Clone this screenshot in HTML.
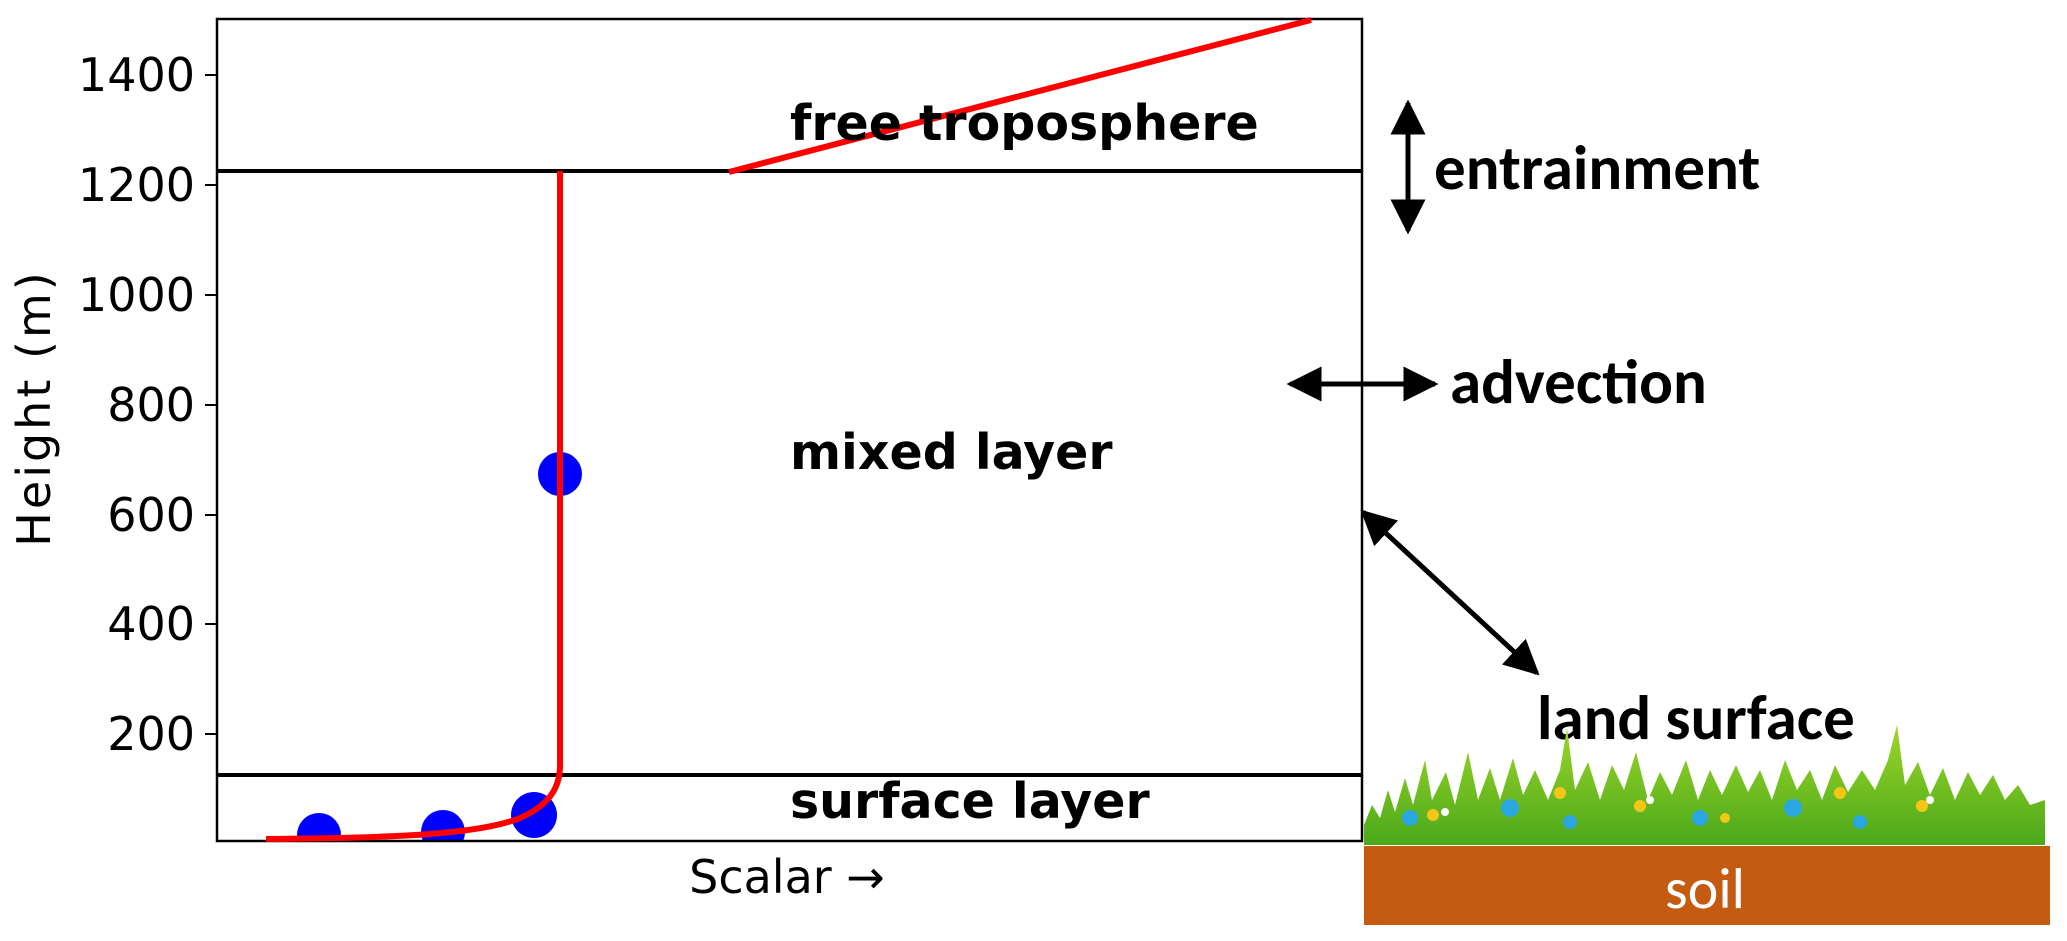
<!DOCTYPE html>
<html><head><style>
html,body{margin:0;padding:0;background:#fff;}
svg{display:block;}
.t{font-family:"DejaVu Sans",sans-serif;font-size:46px;fill:#000;}
.b{font-family:"DejaVu Sans",sans-serif;font-weight:bold;font-size:49px;fill:#000;}
.c{font-family:"Carlito","Liberation Sans",sans-serif;font-weight:bold;font-size:63px;fill:#000;}
</style></head><body>
<svg width="2067" height="941" viewBox="0 0 2067 941" xmlns="http://www.w3.org/2000/svg">
<defs>
<marker id="ah" viewBox="0 0 10 10" refX="9" refY="5" markerWidth="7" markerHeight="7" orient="auto-start-reverse">
<path d="M0,0 L10,5 L0,10 z" fill="#000"/></marker>
<linearGradient id="gg" x1="0" y1="0" x2="0" y2="1"><stop offset="0" stop-color="#9ed62a"/><stop offset="1" stop-color="#4aa81a"/></linearGradient>
</defs>
<g fill="#0000ff">
<circle cx="560" cy="474" r="22"/><circle cx="534" cy="815" r="23"/>
<circle cx="443" cy="832" r="22"/><circle cx="319" cy="835" r="22"/>
</g>
<rect x="200" y="842" width="1180" height="20" fill="#fff"/>
<rect x="217" y="19" width="1145" height="822" fill="none" stroke="#000" stroke-width="2.5"/>
<line x1="217" y1="171" x2="1362" y2="171" stroke="#000" stroke-width="4"/>
<line x1="217" y1="775" x2="1362" y2="775" stroke="#000" stroke-width="4"/>
<g stroke="#000" stroke-width="2">
<line x1="205" y1="75" x2="217" y2="75"/><line x1="205" y1="185" x2="217" y2="185"/>
<line x1="205" y1="295" x2="217" y2="295"/><line x1="205" y1="405" x2="217" y2="405"/>
<line x1="205" y1="515" x2="217" y2="515"/><line x1="205" y1="624" x2="217" y2="624"/>
<line x1="205" y1="734" x2="217" y2="734"/>
</g>
<g class="t" text-anchor="end">
<text x="195" y="91">1400</text><text x="195" y="201">1200</text><text x="195" y="311">1000</text>
<text x="195" y="421">800</text><text x="195" y="531">600</text><text x="195" y="640">400</text><text x="195" y="750">200</text>
</g>
<text class="t" transform="translate(50,408) rotate(-90)" text-anchor="middle" style="letter-spacing:3px">Height (m)</text>
<text class="t" x="787" y="893" text-anchor="middle">Scalar →</text>
<path d="M266,839 C400,838 480,834 520,818 C552,804 560,785 560,765 L560,171" fill="none" stroke="#f00" stroke-width="6"/>
<line x1="729" y1="172" x2="1311" y2="20" stroke="#f00" stroke-width="6"/>
<text class="b" x="790" y="140">free troposphere</text>
<text class="b" x="790" y="469">mixed layer</text>
<text class="b" x="790" y="818">surface layer</text>
<g stroke="#000" stroke-width="5" marker-start="url(#ah)" marker-end="url(#ah)">
<line x1="1408" y1="103" x2="1408" y2="231"/>
<line x1="1290" y1="384" x2="1435" y2="384"/>
<line x1="1363" y1="512" x2="1537" y2="673"/>
</g>
<text class="c" x="1434" y="189">entrainment</text>
<text class="c" x="1450" y="403">advection</text>
<text class="c" x="1537" y="739">land surface</text>
<path d="M1364,845 L1364,825 L1372,805 L1380,818 L1388,790 L1395,812 L1405,778 L1413,805 L1425,760 L1432,800 L1446,772 L1455,805 L1468,752 L1478,800 L1490,768 L1500,800 L1513,758 L1523,795 L1535,770 L1548,800 L1560,770 L1567,728 L1575,790 L1588,762 L1600,800 L1612,765 L1624,790 L1636,752 L1648,800 L1660,772 L1672,795 L1686,760 L1698,800 L1710,770 L1722,795 L1736,765 L1748,792 L1760,770 L1772,800 L1785,760 L1797,790 L1810,770 L1822,800 L1835,765 L1848,792 L1862,770 L1875,790 L1888,760 L1897,725 L1905,785 L1918,762 L1930,795 L1943,768 L1955,800 L1968,772 L1980,795 L1993,775 L2005,800 L2018,785 L2030,805 L2045,800 L2045,845 Z" fill="url(#gg)"/>
<g fill="#2aa7e0"><circle cx="1410" cy="818" r="8"/><circle cx="1510" cy="808" r="9"/><circle cx="1570" cy="822" r="7"/><circle cx="1700" cy="818" r="8"/><circle cx="1793" cy="808" r="9"/><circle cx="1860" cy="822" r="7"/></g>
<g fill="#f5c518"><circle cx="1433" cy="815" r="6"/><circle cx="1560" cy="793" r="6"/><circle cx="1640" cy="806" r="6"/><circle cx="1725" cy="818" r="5"/><circle cx="1840" cy="793" r="6"/><circle cx="1922" cy="806" r="6"/></g>
<g fill="#fff"><circle cx="1445" cy="812" r="4"/><circle cx="1650" cy="800" r="4"/><circle cx="1930" cy="800" r="4"/></g>
<rect x="1364" y="846" width="686" height="79" fill="#c55a11"/>
<text x="1705" y="908" text-anchor="middle" style="font-family:'Carlito','Liberation Sans',sans-serif;font-size:58px;fill:#fff">soil</text>
</svg>
</body></html>
